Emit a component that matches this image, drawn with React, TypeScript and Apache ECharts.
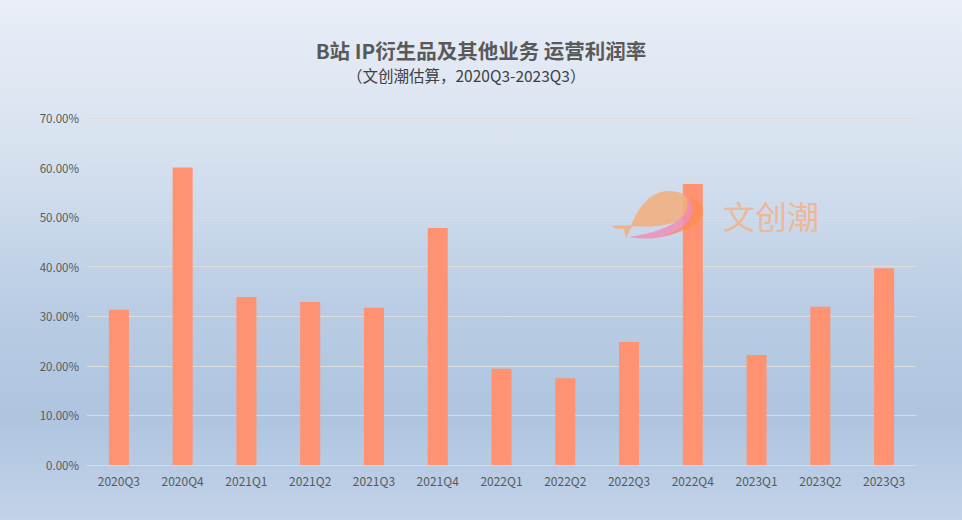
import React, { useEffect, useRef } from "react";
import * as echarts from "echarts";

const categories = ["2020Q3", "2020Q4", "2021Q1", "2021Q2", "2021Q3", "2021Q4", "2022Q1", "2022Q2", "2022Q3", "2022Q4", "2023Q1", "2023Q2", "2023Q3"];
const margins = [31.3, 60.0, 33.9, 32.9, 31.7, 47.8, 19.4, 17.5, 24.8, 56.7, 22.2, 31.9, 39.7];
const titleText = "B站 IP衍生品及其他业务 运营利润率";
const subtitleText = "（文创潮估算，2020Q3-2023Q3）";
const watermarkText = "文创潮";

const FONT = "'Noto Sans CJK SC', 'Noto Sans', sans-serif";

const FISH_BODY = "M631 226 C638 206 652 191 668 191 C684 191 692 198 690 212 C684 222 660 229 631 226 Z";
const FISH_TAIL = "M634 225.5 L612 225.5 L615 228.5 L624 229 L626 239 L630 229 Z";
const FISH_PINK = "M629 237 C656 242 683 235 693 219 C697 211 694 203 686 198 C692 212 680 229 629 237 Z";
const FISH_ORANGE = "M664 236 C690 231 704 221 703 209 C701 203 695 199 690 198 C698 212 690 227 664 236 Z";

let registered = false;
function registerShapes() {
  if (registered) return;
  registered = true;
  echarts.graphic.registerShape("fishBody", echarts.graphic.extendPath(FISH_BODY, {}) as any);
  echarts.graphic.registerShape("fishTail", echarts.graphic.extendPath(FISH_TAIL, {}) as any);
  echarts.graphic.registerShape("fishPink", echarts.graphic.extendPath(FISH_PINK, {}) as any);
  echarts.graphic.registerShape("fishOrange", echarts.graphic.extendPath(FISH_ORANGE, {}) as any);
}

export default function App() {
  const ref = useRef<HTMLDivElement>(null);
  useEffect(() => {
    if (!ref.current) return;
    registerShapes();
    const chart = echarts.init(ref.current, null, { renderer: "svg" });
    chart.setOption({
      animation: false,
      backgroundColor: "transparent",
      title: [
        {
          text: titleText,
          left: "center",
          top: 39,
          padding: 0,
          textStyle: { fontFamily: FONT, fontSize: 20.5, fontWeight: "bold", color: "#595959", lineHeight: 22 },
        },
        {
          text: subtitleText,
          left: 347,
          top: 66,
          padding: 0,
          textStyle: { fontFamily: FONT, fontSize: 15.5, fontWeight: "normal", color: "#404040", lineHeight: 17 },
        },
      ],
      grid: { left: 87, right: 46, top: 118, bottom: 55, containLabel: false },
      xAxis: {
        type: "category",
        data: categories,
        axisLine: { show: true, lineStyle: { color: "#d9d9d9", width: 1 } },
        axisTick: { show: false },
        axisLabel: { color: "#595959", fontFamily: FONT, fontSize: 12, margin: 9 },
      },
      yAxis: {
        type: "value",
        min: 0,
        max: 70,
        interval: 10,
        axisLine: { show: false },
        axisTick: { show: false },
        splitLine: { lineStyle: { color: "#dcdcdc", width: 1 } },
        axisLabel: {
          color: "#595959",
          fontFamily: FONT,
          fontSize: 11.5,
          margin: 8,
          formatter: (v: number) => v.toFixed(2) + "%",
        },
      },
      series: [
        {
          type: "bar",
          data: margins,
          barWidth: 20,
          itemStyle: { color: "#ff9271" },
          z: 2,
        },
      ],
      graphic: [
        { type: "fishBody", x: 0, y: 0, z: 100, style: { fill: "#f2ae7a", opacity: 0.85 } },
        { type: "fishTail", x: 0, y: 0, z: 100, style: { fill: "#f2ae7a", opacity: 0.85 } },
        { type: "fishPink", x: 0, y: 0, z: 101, style: { fill: "#f08cb0", opacity: 0.8 } },
        { type: "fishOrange", x: 0, y: 0, z: 102, style: { fill: "#ff8a3c", opacity: 0.55 } },
        {
          type: "text",
          x: 723,
          y: 199,
          z: 100,
          style: { text: watermarkText, font: "32px " + FONT, fill: "#f2b48a", opacity: 0.9 },
        },
      ],
    });
    return () => chart.dispose();
  }, []);
  return (
    <div
      style={{
        position: "fixed",
        left: 0,
        top: 0,
        width: 962,
        height: 520,
        background: "linear-gradient(180deg, #e9eef7 0%, #d6e1ef 30%, #b9cce4 60%, #aec4df 80%, #c3d3e9 100%)",
      }}
    >
      <div ref={ref} style={{ width: 962, height: 520 }} />
    </div>
  );
}
